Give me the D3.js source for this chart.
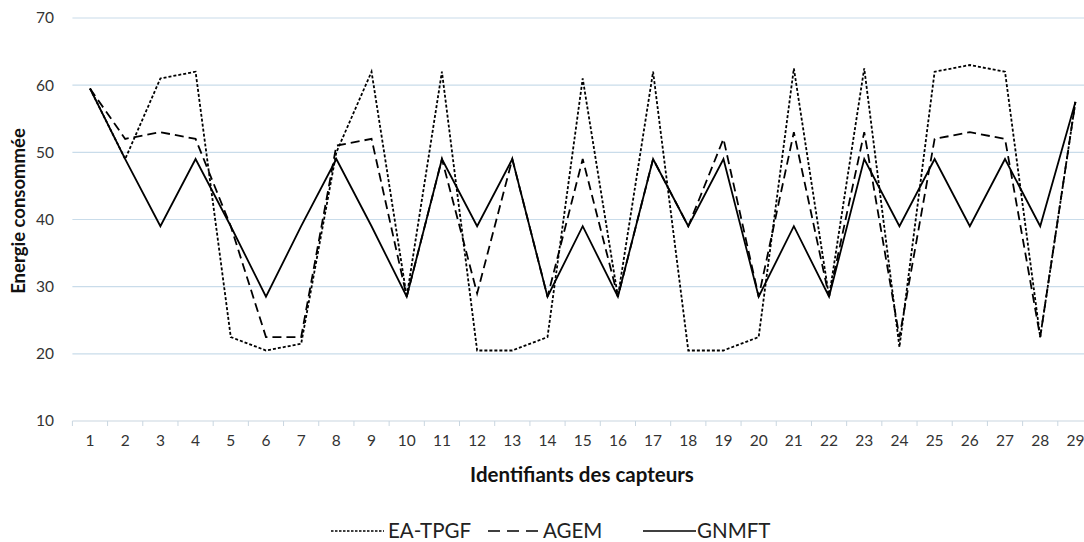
<!DOCTYPE html>
<html>
<head>
<meta charset="utf-8">
<script src="https://cdn.jsdelivr.net/npm/d3@7"></script>
<style>
  html, body { margin: 0; padding: 0; background: #fff; }
  svg { display: block; font-family: Lato, "Liberation Sans", sans-serif; }
</style>
</head>
<body>
<svg id="chart" width="1084" height="542"></svg>
<script>
const categories = ["1","2","3","4","5","6","7","8","9","10","11","12","13","14","15","16","17","18","19","20","21","22","23","24","25","26","27","28","29"];
const eaTpgf = [59.5,49,61,62,22.5,20.5,21.5,50,62,28.5,62,20.5,20.5,22.5,61,28.5,62,20.5,20.5,22.5,62.5,28.5,62.5,21,62,63,62,22.5,57.5];
const agem   = [59.5,52,53,52,39,22.5,22.5,51,52,28.5,49,29,49,28.5,49,28.5,49,39,52,28.5,53,28.5,53,22.5,52,53,52,22.5,57.5];
const gnmft  = [59.5,49,39,49,39,28.5,39,49,39,28.5,49,39,49,28.5,39,28.5,49,39,49,28.5,39,28.5,49,39,49,39,49,39,57.5];
const yTicks = [10,20,30,40,50,60,70];
const seriesNames = ["EA-TPGF","AGEM","GNMFT"];

(function () {
const series = [
  {name: seriesNames[0], values: eaTpgf, dash: "3,2"},
  {name: seriesNames[1], values: agem, dash: "9,5"},
  {name: seriesNames[2], values: gnmft, dash: null}
];

const svg = d3.select("#chart");
const pLeft = 72.4, pRight = 1093, pTop = 18, pBottom = 421;

const x = d3.scaleBand().domain(categories).range([pLeft, pRight]).padding(0);
const y = d3.scaleLinear().domain([10, 70]).range([pBottom, pTop]);
const cx = c => x(c) + x.bandwidth() / 2;

// gridlines
svg.append("g").selectAll("line").data(yTicks.filter(t => t !== 10)).join("line")
  .attr("x1", pLeft).attr("x2", pRight)
  .attr("y1", d => y(d)).attr("y2", d => y(d))
  .attr("stroke", "#c9dcea").attr("stroke-width", 1.2);

// y tick labels
svg.append("g").selectAll("text").data(yTicks).join("text")
  .attr("x", 54).attr("y", d => y(d)).attr("dy", "0.35em")
  .attr("text-anchor", "end").attr("font-size", 15.5).attr("fill", "#333")
  .text(d => d);

// x axis line
svg.append("line").attr("x1", pLeft).attr("x2", pRight)
  .attr("y1", pBottom).attr("y2", pBottom)
  .attr("stroke", "#c9d6e0").attr("stroke-width", 1.2);
// tick marks at band boundaries
const edges = categories.map(c => x(c)).concat([x(categories[categories.length - 1]) + x.bandwidth()]);
svg.append("g").selectAll("line").data(edges).join("line")
  .attr("x1", d => d).attr("x2", d => d)
  .attr("y1", pBottom).attr("y2", pBottom + 5)
  .attr("stroke", "#c9d6e0").attr("stroke-width", 1);
// x tick labels
svg.append("g").selectAll("text").data(categories).join("text")
  .attr("x", d => cx(d)).attr("y", 441).attr("dy", "0.35em")
  .attr("text-anchor", "middle").attr("font-size", 15.5).attr("fill", "#333")
  .text(d => d);

// axis titles
svg.append("text").attr("x", 582).attr("y", 475).attr("dy", "0.35em")
  .attr("text-anchor", "middle").attr("font-size", 20.5).attr("font-weight", "bold").attr("fill", "#111")
  .text("Identifiants des capteurs");
svg.append("text").attr("transform", "translate(19,211) rotate(-90)")
  .attr("dy", "0.35em").attr("text-anchor", "middle")
  .attr("font-size", 18.5).attr("font-weight", "bold").attr("fill", "#111")
  .text("Energie consommée");

// lines
const line = d3.line().x((d, i) => cx(categories[i])).y(d => y(d));
const g = svg.append("g");
series.forEach(s => {
  g.append("path").datum(s.values)
    .attr("d", line).attr("fill", "none")
    .attr("stroke", "#000").attr("stroke-width", 1.8)
    .attr("stroke-linejoin", "miter")
    .attr("stroke-dasharray", s.dash);
});

// legend
const legendItems = [
  {name: seriesNames[0], dash: "2.5,1.5", x0: 331, x1: 384, tx: 388},
  {name: seriesNames[1], dash: "12,7", x0: 488, x1: 541, tx: 543},
  {name: seriesNames[2], dash: null, x0: 643, x1: 696, tx: 697}
];
const ly = 531;
const lg = svg.append("g");
legendItems.forEach(it => {
  lg.append("line").attr("x1", it.x0).attr("x2", it.x1).attr("y1", ly).attr("y2", ly)
    .attr("stroke", "#000").attr("stroke-width", 1.6).attr("stroke-dasharray", it.dash);
  lg.append("text").attr("x", it.tx).attr("y", ly).attr("dy", "0.35em")
    .attr("font-size", 20.5).attr("fill", "#222").text(it.name);
});
})();
</script>
</body>
</html>
